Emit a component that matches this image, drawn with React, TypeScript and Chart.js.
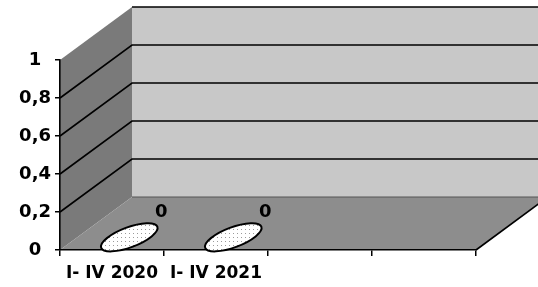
import React, { useEffect, useRef } from 'react';
import { Chart, registerables } from 'chart.js';

Chart.register(...registerables);

const categories = ['I- IV 2020', 'I- IV 2021', '', ''];
const values: (number | null)[] = [0, 0, null, null];
const yMin = 0;
const yMax = 1;
const yStep = 0.2;

const DEPTH_X = 72;
const DEPTH_Y = -53;
const BAR_DEPTH = 0.24;
const FONT = '"DejaVu Sans", sans-serif';

const wallPlugin = {
  id: 'walls3d',
  beforeDraw(chart: any) {
    const { ctx, chartArea, scales } = chart;
    const y = scales.y;
    const W = chart.width;
    const L = chartArea.left;
    const R = chartArea.right;
    const y0 = y.getPixelForValue(yMin);
    const y1 = y.getPixelForValue(yMax);
    const bx = L + DEPTH_X;
    ctx.save();
    // back wall
    ctx.fillStyle = '#c8c8c8';
    ctx.fillRect(bx, y1 + DEPTH_Y, W - bx, y0 - y1);
    // left wall
    ctx.fillStyle = '#7a7a7a';
    ctx.beginPath();
    ctx.moveTo(L, y1);
    ctx.lineTo(bx, y1 + DEPTH_Y);
    ctx.lineTo(bx, y0 + DEPTH_Y);
    ctx.lineTo(L, y0);
    ctx.closePath();
    ctx.fill();
    // floor
    ctx.fillStyle = '#8d8d8d';
    ctx.beginPath();
    ctx.moveTo(L, y0);
    ctx.lineTo(R, y0);
    ctx.lineTo(R + DEPTH_X, y0 + DEPTH_Y);
    ctx.lineTo(bx, y0 + DEPTH_Y);
    ctx.closePath();
    ctx.fill();
    // back wall bottom edge
    ctx.strokeStyle = '#555';
    ctx.lineWidth = 1;
    ctx.beginPath();
    ctx.moveTo(bx, y0 + DEPTH_Y);
    ctx.lineTo(W, y0 + DEPTH_Y);
    ctx.stroke();
    // grid lines
    ctx.strokeStyle = '#000';
    ctx.lineWidth = 1.6;
    for (let v = yStep; v <= yMax + 1e-9; v += yStep) {
      const py = y.getPixelForValue(v);
      ctx.beginPath();
      if (v < yMax - 1e-9) {
        ctx.moveTo(L, py);
        ctx.lineTo(bx, py + DEPTH_Y);
      } else {
        ctx.moveTo(bx, py + DEPTH_Y);
      }
      ctx.lineTo(W, py + DEPTH_Y);
      ctx.stroke();
    }
    // floor right edge
    ctx.beginPath();
    ctx.moveTo(R, y0);
    ctx.lineTo(R + DEPTH_X, y0 + DEPTH_Y);
    ctx.stroke();
    ctx.restore();
  },
  afterDatasetsDraw(chart: any) {
    const { ctx } = chart;
    const meta = chart.getDatasetMeta(0);
    const pc = document.createElement('canvas');
    pc.width = 4;
    pc.height = 4;
    const pctx = pc.getContext('2d')!;
    pctx.fillStyle = '#fff';
    pctx.fillRect(0, 0, 4, 4);
    pctx.fillStyle = '#9a9a9a';
    pctx.fillRect(1, 1, 1, 1);
    const pattern = ctx.createPattern(pc, 'repeat');
    ctx.save();
    meta.data.forEach((el: any, i: number) => {
      const v = values[i];
      if (v === null || v === undefined) return;
      const cx = el.x + BAR_DEPTH * DEPTH_X;
      const cy = el.y + BAR_DEPTH * DEPTH_Y;
      ctx.beginPath();
      ctx.ellipse(cx, cy, 30, 10, -0.36, 0, Math.PI * 2);
      ctx.fillStyle = pattern;
      ctx.fill();
      ctx.lineWidth = 2;
      ctx.strokeStyle = '#000';
      ctx.stroke();
      ctx.fillStyle = '#000';
      ctx.font = `bold 18px ${FONT}`;
      ctx.textAlign = 'center';
      ctx.textBaseline = 'middle';
      ctx.fillText(String(v).replace('.', ','), cx + 32, cy - 25);
    });
    ctx.restore();
  },
};

export default function App() {
  const ref = useRef<HTMLCanvasElement>(null);
  useEffect(() => {
    const chart = new Chart(ref.current!, {
      type: 'bar',
      data: {
        labels: categories,
        datasets: [
          {
            data: values as any,
            backgroundColor: '#fff',
            borderWidth: 0,
          },
        ],
      },
      options: {
        animation: false,
        responsive: false,
        events: [],
        layout: { padding: { top: 60, right: 62, left: 0, bottom: 0 } },
        plugins: { legend: { display: false }, tooltip: { enabled: false } },
        scales: {
          x: {
            offset: true,
            grid: {
              offset: true,
              drawOnChartArea: false,
              color: '#000',
              tickLength: 6,
              lineWidth: 1.5,
            },
            border: { display: true, color: '#000', width: 1.6 },
            ticks: {
              color: '#000',
              font: { family: FONT, size: 17, weight: 'bold' },
              padding: 7,
              maxRotation: 0,
              autoSkip: false,
            },
            afterFit: (s: any) => {
              s.height = 37;
            },
          },
          y: {
            min: yMin,
            max: yMax,
            grid: {
              drawOnChartArea: false,
              color: '#000',
              tickLength: 5,
              lineWidth: 1.5,
            },
            border: { display: true, color: '#000', width: 1.6 },
            ticks: {
              stepSize: yStep,
              color: '#000',
              padding: 4,
              crossAlign: 'center',
              font: { family: FONT, size: 18, weight: 'bold' },
              callback: (v: any) => String(Math.round(Number(v) * 10) / 10).replace('.', ','),
            },
            afterFit: (s: any) => {
              s.width = 60;
            },
          },
        },
      },
      plugins: [wallPlugin],
    });
    return () => chart.destroy();
  }, []);
  return (
    <div style={{ position: 'absolute', left: 0, top: 0, width: 538, height: 287, background: '#fff' }}>
      <canvas ref={ref} width={538} height={287} style={{ display: 'block' }} />
    </div>
  );
}
